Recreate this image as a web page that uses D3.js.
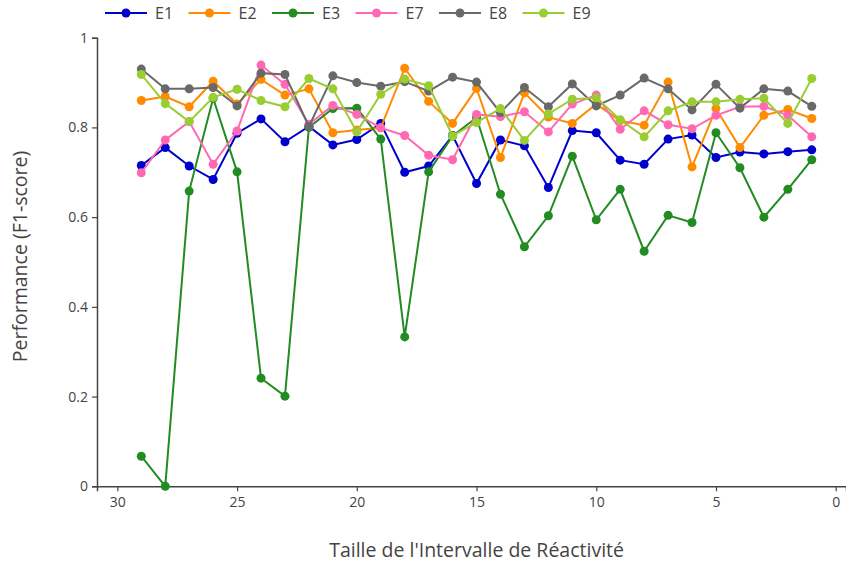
<!DOCTYPE html>
<html>
<head>
<meta charset="utf-8">
<script src="https://cdn.jsdelivr.net/npm/d3@7"></script>
<style>
  body { margin: 0; background: #fff; }
  text { font-family: "Open Sans", "Noto Sans", sans-serif; fill: #444; }
</style>
</head>
<body>
<div id="graph"></div>
<script>
  // interval sizes, 29 down to 1
  const sizes = [29, 28, 27, 26, 25, 24, 23, 22, 21, 20, 19, 18, 17, 16, 15, 14, 13, 12, 11, 10, 9, 8, 7, 6, 5, 4, 3, 2, 1];

  const e1 = [0.715, 0.755, 0.714, 0.684, 0.787, 0.819, 0.768, 0.802, 0.761, 0.773, 0.809, 0.700, 0.714, 0.782, 0.675, 0.772, 0.759, 0.666, 0.793, 0.788, 0.727, 0.718, 0.774, 0.783, 0.733, 0.745, 0.741, 0.746, 0.750];
  const e2 = [0.860, 0.869, 0.846, 0.903, 0.852, 0.907, 0.872, 0.886, 0.788, 0.794, 0.799, 0.932, 0.858, 0.809, 0.887, 0.733, 0.877, 0.823, 0.809, 0.852, 0.815, 0.805, 0.901, 0.712, 0.842, 0.755, 0.827, 0.840, 0.820];
  const e3 = [0.067, 0.000, 0.658, 0.865, 0.701, 0.241, 0.201, 0.800, 0.842, 0.843, 0.774, 0.333, 0.701, 0.781, 0.822, 0.651, 0.534, 0.603, 0.736, 0.594, 0.662, 0.524, 0.604, 0.588, 0.788, 0.710, 0.600, 0.662, 0.728];
  const e7 = [0.699, 0.772, 0.813, 0.718, 0.792, 0.939, 0.896, 0.807, 0.849, 0.829, 0.799, 0.782, 0.738, 0.728, 0.829, 0.824, 0.835, 0.790, 0.852, 0.872, 0.796, 0.837, 0.806, 0.797, 0.827, 0.846, 0.847, 0.827, 0.779];
  const e8 = [0.930, 0.886, 0.886, 0.889, 0.848, 0.921, 0.918, 0.802, 0.915, 0.900, 0.892, 0.902, 0.881, 0.912, 0.901, 0.833, 0.889, 0.846, 0.897, 0.848, 0.872, 0.910, 0.886, 0.839, 0.896, 0.843, 0.886, 0.881, 0.847];
  const e9 = [0.918, 0.853, 0.813, 0.867, 0.885, 0.860, 0.846, 0.909, 0.886, 0.790, 0.874, 0.908, 0.893, 0.781, 0.811, 0.842, 0.771, 0.830, 0.863, 0.866, 0.817, 0.779, 0.837, 0.857, 0.857, 0.863, 0.865, 0.809, 0.909];

  const names = ["E1", "E2", "E3", "E7", "E8", "E9"];
  const colors = ["#0000cd", "#ff8c00", "#228b22", "#ff69b4", "#696969", "#9acd32"];
  const xTicks = [30, 25, 20, 15, 10, 5, 0];
  const yTicks = [0, 0.2, 0.4, 0.6, 0.8, 1];

  const width = 846, height = 562;
  const series = [e1, e2, e3, e7, e8, e9].map((vals, i) => ({
    name: names[i],
    color: colors[i],
    points: vals.map((v, j) => ({ x: sizes[j], y: v }))
  }));

  let svg = d3.select("#graph").append("svg")
    .attr("width", width)
    .attr("height", height);

  let x = d3.scaleLinear().domain([30.85, -0.43]).range([97, 846]);
  let y = d3.scaleLinear().domain([0, 1]).range([486.3, 37.7]);

  // axes
  let x_axis = d3.axisBottom(x).tickValues(xTicks).tickSize(5).tickPadding(6).tickFormat(d3.format("d"));
  let y_axis = d3.axisLeft(y).tickValues(yTicks).tickSize(5).tickPadding(4).tickFormat(d => d3.format("")(d));

  let gx = svg.append("g")
    .attr("transform", `translate(0, ${y(0)})`)
    .call(x_axis);
  let gy = svg.append("g")
    .attr("transform", `translate(${x.range()[0]}, 0)`)
    .call(y_axis);

  [gx, gy].forEach(g => {
    g.select(".domain").attr("stroke", "#444").attr("stroke-width", 1.5);
    g.selectAll(".tick line").attr("stroke", "#444").attr("stroke-width", 1.2);
    g.selectAll(".tick text").style("font-size", "14px").attr("fill", "#444");
  });

  svg.append("text")
    .attr("x", 476.6)
    .attr("y", 556.5)
    .style("text-anchor", "middle")
    .style("font-size", "19.5px")
    .text("Taille de l'Intervalle de Réactivité");

  svg.append("text")
    .attr("transform", "translate(27, 256.5) rotate(-90)")
    .style("text-anchor", "middle")
    .style("font-size", "19.5px")
    .text("Performance (F1-score)");

  // lines + markers
  let line = d3.line().x(d => x(d.x)).y(d => y(d.y));

  series.forEach(s => {
    let g = svg.append("g");
    g.append("path")
      .datum(s.points)
      .attr("fill", "none")
      .attr("stroke", s.color)
      .attr("stroke-width", 2)
      .attr("d", line);
    g.selectAll("circle")
      .data(s.points)
      .enter()
      .append("circle")
      .attr("cx", d => x(d.x))
      .attr("cy", d => y(d.y))
      .attr("r", 4.5)
      .attr("fill", s.color);
  });

  // legend
  let legend = svg.append("g").attr("transform", "translate(105, 13)");
  series.forEach((s, i) => {
    let item = legend.append("g").attr("transform", `translate(${i * 83.5}, 0)`);
    item.append("line")
      .attr("x1", 0).attr("x2", 42)
      .attr("stroke", s.color)
      .attr("stroke-width", 2);
    item.append("circle")
      .attr("cx", 21)
      .attr("r", 4.5)
      .attr("fill", s.color);
    item.append("text")
      .attr("x", 50)
      .attr("dy", "0.36em")
      .style("font-size", "16px")
      .text(s.name);
  });
</script>
</body>
</html>
